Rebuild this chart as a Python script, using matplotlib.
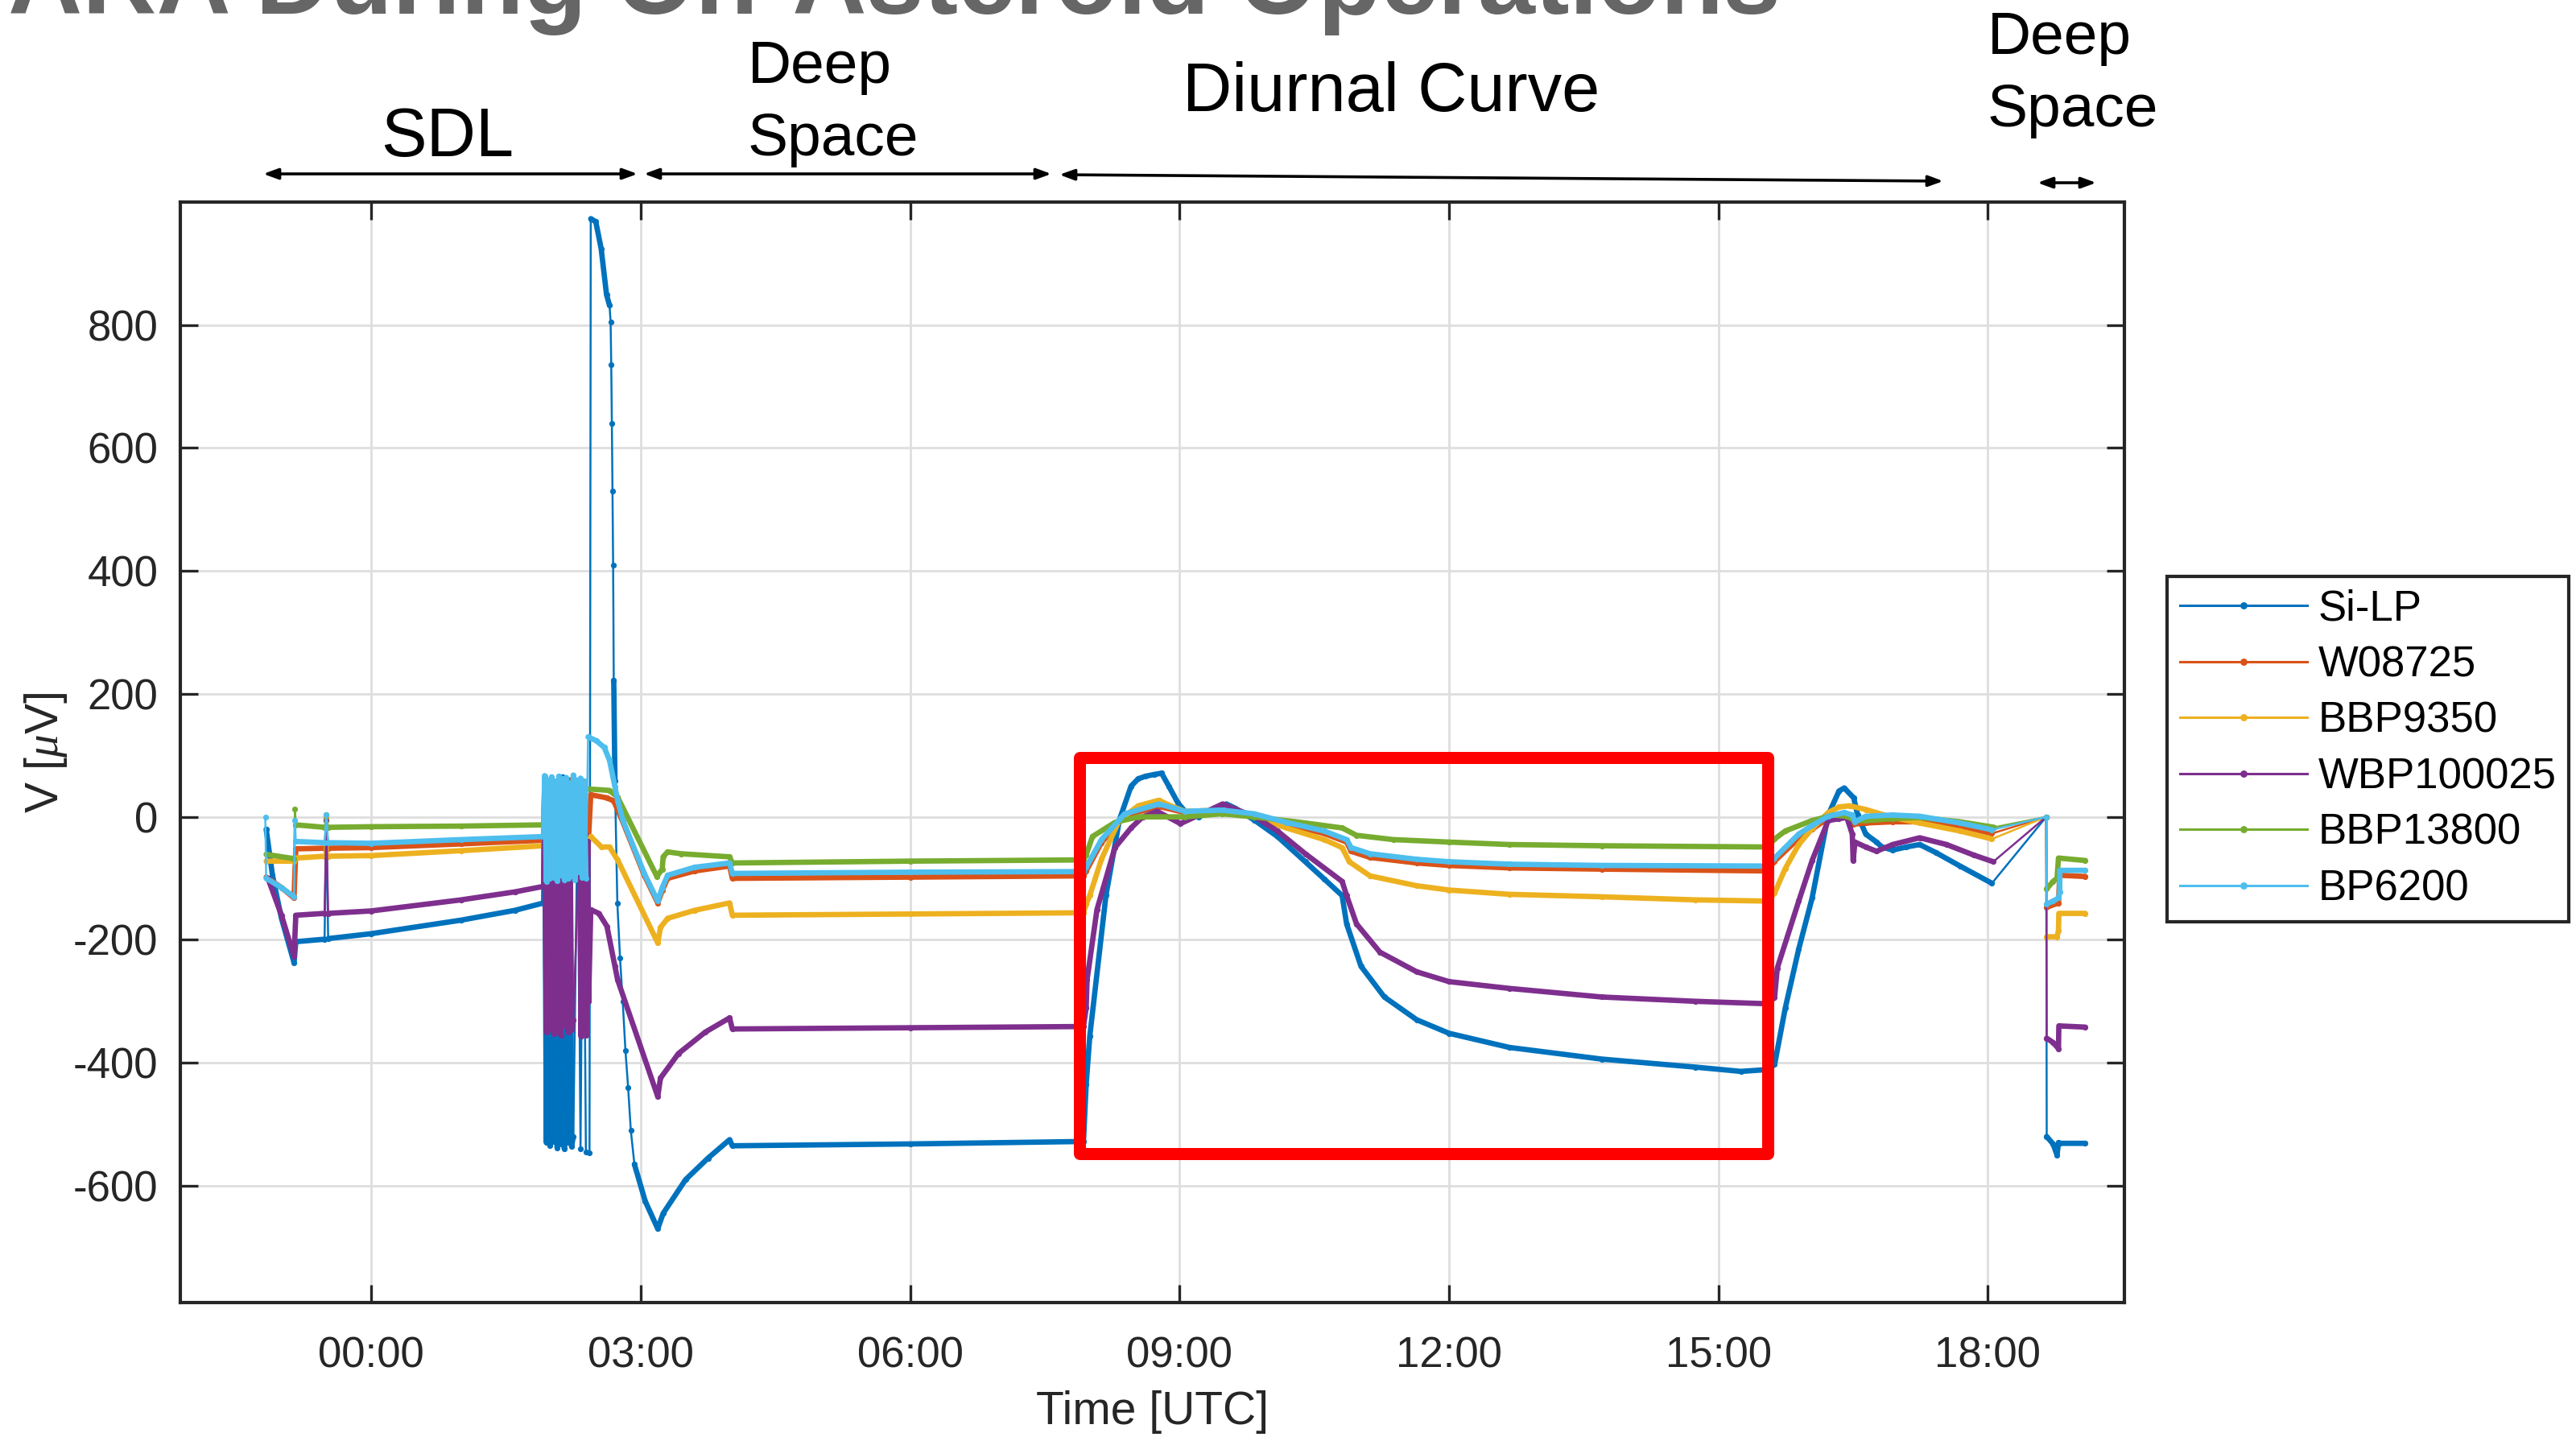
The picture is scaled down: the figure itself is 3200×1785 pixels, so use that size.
import numpy as np
import matplotlib
matplotlib.use('Agg')
import matplotlib.pyplot as plt
from matplotlib.lines import Line2D
from matplotlib.patches import Rectangle

plt.rcParams['font.family'] = ['Liberation Sans', 'DejaVu Sans']
plt.rcParams['axes.unicode_minus'] = False
plt.rcParams['mathtext.fontset'] = 'custom'
plt.rcParams['mathtext.it'] = 'Liberation Serif:italic'
plt.rcParams['mathtext.rm'] = 'Liberation Sans'

NaN = np.nan

SERIES = ['Si-LP', 'W08725', 'BBP9350', 'WBP100025', 'BBP13800', 'BP6200']
COLORS = ['#0072BD', '#D95319', '#EDB120', '#7E2F8E', '#77AC30', '#4DBEEE']

# time in hours UTC (NaN = data gap: only the thin connecting line is drawn)
SI_LP_T = [-1.17, -1.10, -1.00, -0.86, -0.84, -0.52, NaN, -0.50, NaN, -0.48, 0.00, 1.00, 1.60, 1.92,
           1.93, 1.95, 1.97, 1.99, 2.01, 2.03, 2.05, 2.07, 2.09, 2.11, 2.13, 2.15, 2.17, 2.19, 2.21, 2.23, 2.25, NaN,
           2.30, NaN, 2.33, NaN, 2.36, NaN, 2.39, NaN, 2.43, NaN,
           2.444, 2.50, 2.56, 2.62, 2.653, NaN,
           2.665, NaN, 2.672, NaN, 2.679, NaN, 2.686, NaN, 2.693, NaN,
           2.70, 2.713, NaN,
           2.74, NaN, 2.77, NaN, 2.80, NaN, 2.83, NaN, 2.86, NaN, 2.89, NaN,
           2.93, 3.05, 3.19, 3.25, 3.50, 3.75, 3.99, 4.02, 6.00, 7.93,
           7.96, 8.00, 8.18, 8.33, 8.46, 8.54, 8.62, 8.72, 8.80, 8.88, 8.98, 9.06, 9.21, 9.42, 9.52, 9.62, 9.83,
           10.09, 10.40, 10.61, 10.81, 10.86, 11.02, 11.28, 11.64, 12.00, 12.67, 13.70, 14.74, 15.25, 15.55,
           15.625, 15.744, 15.894, 16.043, 16.222, 16.342, 16.40, 16.506, 16.55, 16.64, 16.76, 16.82, 16.94,
           17.09, 17.24, 17.42, 17.69, 18.045, NaN,
           18.65, NaN,
           18.655, 18.726, 18.77, 18.786, 18.80, 19.085]
SI_LP_V = [-20, -95, -165, -237, -203, -199, NaN, 0, NaN, -198, -190, -168, -152, -140,
           60, -530, 55, -535, 62, -528, 50, -538, 58, -532, 65, -540, 52, -530, 60, -536, -520, NaN,
           40, NaN, -540, NaN, 30, NaN, -545, NaN, -546, NaN,
           973, 968, 924, 849, 832, NaN,
           805, NaN, 735, NaN, 640, NaN, 530, NaN, 410, NaN,
           222, 59, NaN,
           -140, NaN, -230, NaN, -300, NaN, -380, NaN, -440, NaN, -510, NaN,
           -565, -625, -670, -645, -590, -555, -525, -535, -532, -528,
           -435, -357, -128, -5, 50, 62, 66, 69, 71, 50, 23, 9, 0, 14, 21, 14, -5,
           -32, -73, -101, -128, -174, -243, -293, -330, -352, -375, -394, -407, -414, -411,
           -403, -311, -215, -132, 3, 42, 47, 31, 3, -28, -41, -49, -54,
           -49, -45, -58, -80, -108, NaN,
           0, NaN,
           -520, -532, -550, -530, -531, -531]

W08725_T = [-1.17, -1.00, -0.86, -0.84, -0.52, NaN, -0.50, NaN, -0.48, 0.00, 1.00, 1.92,
            1.93, 1.96, 1.99, 2.02, 2.05, 2.08, 2.11, 2.14, 2.17, 2.20, 2.23, 2.26, 2.29, 2.32, 2.35, 2.38, 2.41,
            2.444, 2.62, 2.70, 2.80, 3.04, 3.19, 3.24, 3.30, 3.60, 3.99, 4.02, 6.00, 7.93,
            7.96, 8.13, 8.39, 8.77, 9.06, 9.47, 9.83, 10.19, 10.61, 10.86, 10.91, 11.12, 11.64, 12.00, 12.67,
            13.70, 15.55,
            15.625, 15.894, 16.043, 16.222, 16.342, 16.42, 16.50, 16.64, 16.94, 17.24, 17.69, 18.045, NaN,
            18.65, NaN, 18.655, 18.786, 18.80, 19.085]
W08725_V = [-98, -115, -132, -52, -51, NaN, 0, NaN, -51, -50, -44, -38,
            55, -95, 50, -90, 58, -92, 45, -96, 52, -88, 60, -94, 48, -85, 50, -90, -60,
            36, 31, 26, -8, -95, -140, -120, -100, -88, -80, -100, -98, -96,
            -88, -42, 2, 17, 7, 9, 3, -12, -27, -41, -56, -66, -75, -79, -83,
            -85, -88,
            -72, -35, -20, -2, 3, 5, -12, -10, -8, -8, -15, -27, NaN,
            0, NaN, -147, -140, -95, -97]

BBP9350_T = [-1.17, -0.86, -0.84, -0.52, NaN, -0.50, NaN, -0.48, 0.00, 1.00, 1.92,
             1.93, 1.96, 1.99, 2.02, 2.05, 2.08, 2.11, 2.14, 2.17, 2.20, 2.23, 2.26, 2.29, 2.32, 2.35, 2.38, 2.41,
             2.444, 2.564, 2.653, 2.743, 3.19, 3.22, 3.30, 3.60, 3.99, 4.02, 6.00, 7.93,
             7.96, 8.00, 8.13, 8.33, 8.54, 8.77, 8.90, 9.06, 9.47, 9.83, 10.19, 10.61, 10.81, 10.89, 11.12,
             11.64, 12.00, 12.67, 13.70, 14.74, 15.55,
             15.625, 15.744, 15.894, 16.043, 16.222, 16.342, 16.46, 16.64, 16.94, 17.24, 17.69, 18.045, NaN,
             18.65, NaN, 18.655, 18.77, 18.786, 18.79, 19.085]
BBP9350_V = [-72, -72, -67, -64, NaN, 0, NaN, -64, -63, -55, -47,
             40, -60, 35, -65, 42, -58, 30, -62, 38, -55, 45, -60, 32, -50, 36, -55, -40,
             -32, -49, -49, -70, -205, -180, -165, -152, -140, -160, -158, -156,
             -142, -128, -69, -5, 18, 27, 18, 9, 11, 0, -18, -37, -50, -73, -96,
             -112, -119, -126, -130, -135, -137,
             -124, -84, -45, -19, 7, 16, 18, 12, -1, -10, -23, -36, NaN,
             0, NaN, -195, -195, -185, -157, -157]

WBP100025_T = [-1.15, -1.00, -0.86, -0.84, -0.52, NaN, -0.50, NaN, -0.48, 0.00, 1.00, 1.60, 1.92,
               1.93, 1.95, 1.97, 1.99, 2.01, 2.03, 2.05, 2.07, 2.09, 2.11, 2.13, 2.15, 2.17, 2.19, 2.21, 2.23, 2.25, NaN,
               2.32, 2.335, 2.35, 2.365, 2.38, 2.395, 2.41, 2.42,
               2.444, 2.534, 2.624, 2.713, 2.743, 3.19, 3.22, 3.42, 3.72, 3.99, 4.02, 6.00, 7.93,
               7.96, 7.97, 8.08, 8.28, 8.46, 8.59, 8.75, 9.01, 9.48, 9.84, 10.09, 10.40, 10.81, 10.86, 10.97,
               11.23, 11.64, 12.00, 12.67, 13.70, 14.74, 15.55,
               15.625, 15.655, 15.894, 16.043, 16.222, 16.342, 16.43, 16.49, 16.50, 16.52, 16.64, 16.76, 16.94,
               17.24, 17.54, 17.84, 18.06, NaN, 18.65, NaN, 18.655, 18.726, 18.786, 18.79, 19.085]
WBP100025_V = [-100, -160, -227, -160, -157, NaN, -5, NaN, -157, -153, -135, -122, -113,
               52, -350, 48, -345, 55, -352, 45, -348, 50, -355, 54, -340, 47, -350, 52, -346, -330, NaN,
               -30, -357, -35, -350, -28, -355, -40, -300,
               -151, -157, -178, -243, -265, -455, -425, -385, -350, -327, -345, -343, -341,
               -311, -265, -151, -50, -18, 0, 9, -11, 21, 0, -23, -60, -105, -128, -174,
               -220, -252, -268, -279, -293, -300, -304,
               -294, -246, -137, -71, -6, -3, -1, -28, -71, -41, -49, -56, -45,
               -34, -45, -62, -73, NaN, 0, NaN, -360, -367, -377, -340, -342]

BBP13800_T = [-1.17, -0.86, NaN, -0.85, NaN, -0.84, -0.52, NaN, -0.50, NaN, -0.48, 0.00, 1.00, 1.92,
              1.93, 1.96, 1.99, 2.02, 2.05, 2.08, 2.11, 2.14, 2.17, 2.20, 2.23, 2.26, 2.29, 2.32,
              2.355, 2.653, 2.743, 3.18, 3.24, 3.25, 3.30, 3.45, 3.99, 4.02, 6.00, 7.93,
              7.96, 8.03, 8.28, 8.54, 9.06, 9.47, 9.83, 10.35, 10.81, 10.97, 11.38, 12.00, 12.67, 13.70, 15.55,
              15.625, 15.744, 16.043, 16.28, 16.43, 16.52, 16.64, 16.94, 17.24, 17.69, 18.07, NaN,
              18.65, NaN, 18.655, 18.726, 18.77, 18.786, 19.085]
BBP13800_V = [-61, -68, NaN, 13, NaN, -13, -17, NaN, 3, NaN, -17, -16, -15, -13,
              50, -20, 45, -25, 52, -18, 40, -22, 48, -15, 55, -20, 45, 46,
              46, 43, 32, -97, -85, -65, -57, -60, -65, -75, -72, -70,
              -62, -32, -9, 0, 0, 5, 0, -9, -18, -30, -37, -41, -45, -47, -49,
              -36, -23, -6, 3, 1, -6, -6, -3, -1, -8, -17, NaN,
              0, NaN, -117, -105, -100, -67, -71]

BP6200_T = [-1.18, NaN, -1.17, -1.00, -0.86, NaN, -0.85, NaN, -0.84, -0.52, NaN, -0.50, NaN, -0.48, 0.00, 1.00, 1.92,
            1.93, 1.95, 1.97, 1.99, 2.01, 2.03, 2.05, 2.07, 2.09, 2.11, 2.13, 2.15, 2.17, 2.19, 2.21, 2.23,
            2.25, 2.27, 2.29, 2.31, 2.33, 2.35, 2.37, 2.39, NaN,
            2.414, 2.504, 2.594, 2.653, 2.713, 2.743, 2.80, 3.04, 3.19, 3.24, 3.30, 3.60, 3.99, 4.02, 6.00, 7.93,
            7.96, 8.13, 8.39, 8.77, 9.06, 9.47, 9.83, 10.19, 10.61, 10.86, 10.91, 11.12, 11.64, 12.00, 12.67,
            13.70, 15.55,
            15.625, 15.894, 16.043, 16.222, 16.40, 16.49, 16.52, 16.64, 16.94, 17.24, 17.69, 18.045, NaN,
            18.65, NaN, 18.655, 18.726, 18.786, 18.80, 18.801, 19.085]
BP6200_V = [0, NaN, -100, -115, -130, NaN, -5, NaN, -40, -42, NaN, 3, NaN, -42, -43, -37, -32,
            67, -105, 60, -100, 65, -98, 58, -104, 66, -95, 62, -102, 64, -100, 55, -96,
            68, -103, 60, -90, 63, -98, 58, -100, NaN,
            130, 124, 113, 92, 49, 27, -5, -92, -137, -115, -95, -82, -75, -92, -90, -89,
            -82, -37, 5, 21, 9, 11, 5, -9, -23, -37, -50, -60, -69, -73, -77,
            -79, -80,
            -67, -28, -14, 1, 7, 3, -8, 1, 3, 1, -10, -21, NaN,
            0, NaN, -142, -137, -132, -122, -87, -87]

DATA = [(SI_LP_T, SI_LP_V), (W08725_T, W08725_V), (BBP9350_T, BBP9350_V),
        (WBP100025_T, WBP100025_V), (BBP13800_T, BBP13800_V), (BP6200_T, BP6200_V)]

XTICKS = [0, 3, 6, 9, 12, 15, 18]
XTICKLABELS = ['00:00', '03:00', '06:00', '09:00', '12:00', '15:00', '18:00']
YTICKS = [-600, -400, -200, 0, 200, 400, 600, 800]

# highlighted diurnal window (hours, µV)
BOX_T = (7.89, 15.55)
BOX_V = (-548, 96)

W, H = 3200, 1785
fig = plt.figure(figsize=(16, 8.925), dpi=200)
ax = fig.add_axes([224 / W, 1 - 1618 / H, (2639 - 224) / W, (1618 - 251) / H])

for (t, v), c in zip(DATA, COLORS):
    t = np.asarray(t, float)
    v = np.asarray(v, float)
    assert len(t) == len(v)
    m = ~np.isnan(t)
    ax.plot(t[m], v[m], color=c, lw=0.9, marker='o', ms=2.6, mew=0, zorder=2)
    ax.plot(t, v, color=c, lw=2.4, solid_joinstyle='round', solid_capstyle='round', zorder=2)

ax.add_patch(Rectangle((BOX_T[0], BOX_V[0]), BOX_T[1] - BOX_T[0], BOX_V[1] - BOX_V[0],
                       fill=False, edgecolor='#ff0000', lw=5.4, joinstyle='round', zorder=5))

ax.set_xlim(-2.126, 19.52)
ax.set_ylim(-790, 1000)
ax.set_xticks(XTICKS)
ax.set_xticklabels(XTICKLABELS)
ax.set_yticks(YTICKS)
ax.grid(True, color='#dedede', lw=1.0)
ax.set_axisbelow(True)
for s in ax.spines.values():
    s.set_linewidth(1.5)
    s.set_color('#262626')
ax.tick_params(direction='in', length=8, width=1.2, top=True, right=True,
               labelsize=19, colors='#262626')
ax.tick_params(axis='x', pad=15)
ax.tick_params(axis='y', pad=10)
ax.set_xlabel('Time [UTC]', fontsize=20.5, color='#262626')
ax.set_ylabel('V [$\\mu$V]', fontsize=20.5, color='#262626')
ax.xaxis.set_label_coords(0.5, (1618 - 1727) / 1367)
ax.yaxis.set_label_coords((86 - 224) / 2415, 0.5)

handles = [Line2D([], [], color=c, lw=1.1, marker='o', ms=3.2, mew=0) for c in COLORS]
leg = fig.legend(handles, SERIES, loc='upper left', bbox_to_anchor=(2692 / W, 1 - 716 / H),
                 fontsize=19, frameon=True, fancybox=False, edgecolor='#262626', framealpha=1,
                 handlelength=3.0, handletextpad=0.25, labelspacing=0.37, borderpad=0.3,
                 borderaxespad=0, numpoints=1)
leg.get_frame().set_linewidth(1.5)

# title (partly cut off at the top in the reference)
fig.text(10 / W, 1 - 17 / H, 'ARA During On-Asteroid Operations', fontsize=46, fontweight='bold',
         color='#666666', ha='left', va='baseline')

# phase annotations
fs = 30.5
fs2 = 27
fig.text(556 / W, 1 - 194 / H, 'SDL', fontsize=fs, ha='center', va='baseline')
fig.text(929 / W, 1 - 103 / H, 'Deep', fontsize=fs2, ha='left', va='baseline')
fig.text(929 / W, 1 - 193 / H, 'Space', fontsize=fs2, ha='left', va='baseline')
fig.text(1728 / W, 1 - 138 / H, 'Diurnal Curve', fontsize=fs, ha='center', va='baseline')
fig.text(2469 / W, 1 - 67 / H, 'Deep', fontsize=fs2, ha='left', va='baseline')
fig.text(2469 / W, 1 - 157 / H, 'Space', fontsize=fs2, ha='left', va='baseline')

arrows = [((327, 216), (792, 216)), ((800, 216), (1306, 216)),
          ((1316, 217), (2414, 225)), ((2531, 227), (2604, 227))]
for (x0, y0), (x1, y1) in arrows:
    ax.annotate('', xy=(x1 / W, 1 - y1 / H), xytext=(x0 / W, 1 - y0 / H),
                xycoords='figure fraction', textcoords='figure fraction',
                annotation_clip=False,
                arrowprops=dict(arrowstyle='<|-|>,head_length=0.55,head_width=0.2',
                                mutation_scale=10, lw=1.3, color='black',
                                shrinkA=0, shrinkB=0))

fig.savefig('out.png', dpi=200)
